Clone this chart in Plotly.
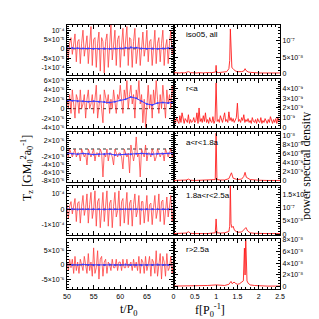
import plotly.graph_objects as go
from plotly.subplots import make_subplots

# ---------------- data ----------------
T_START, T_STEP = 50.0, 0.25
MEAN_STEP = 1.0

# time series (left column); units noted per series
all_T = [2, -5, 3, 6, -3, 2, 8, -7, 4, 5, -8, 3, 10, -4, 2, 7, -8, 0, 12, -9, 5, 6, -10, 3, 9, -12, 6, 4, -13, 4,
         8, -10, 1, 13, -6, 3, 10, -9, 5, 7, -10, 2, 11, -4, 3, 12, -9, 6, 5, -10, 4, 11, -8, 0, 6, -9, 3, 9, -4, 1,
         10, -7, 4, 5, -9, 2, 10, -8, 3, 6, -7, 3, 10, -9, 1, 5, -8, 3, 10, -3, 2]           # 1e-5
inner_T = [2, 0, 3, -1, 4, 1, -2, 3, 2, -1, 4, 0, 1, 3, -2, 2, 4, 0, 1, 3, -1, 2, 5, -2, 1, 3, 0, -3, 4, 2,
           1, 3, -1, 2, 0, 4, 1, -1, 3, 2, 5, 1, -1, 4, 2, 6, 0, 3, 5, 1, 3, -2, 4, 2, 6, 1, 3, -3, 2, -4,
           1, 5, 0, 3, -2, 4, 1, 6, 2, -1, 3, 0, 5, 2, -2, 4, 1, 3, 0, 5, 2]                  # 1e-6
mid_T = [-1, -2, 0, -1, -2, -1, 0, -2, -1, -1, -3, 0, -1, -2, -1, -4, 0, -1, -2, -1, 0, -3, -1, -1, -2, 0, -1, -7, -1, -2,
         0, -3, -1, -1, -2, -4, 0, -1, -2, -1, -1, -2, -5, 0, -1, -2, -1, -6, 1, -1, -3, -1, 3, -2, -1, -7, 0, -1, -2, 1,
         -3, -1, -1, -2, 0, -1, -3, -2, 0, -1, -2, -1, -1, -3, 0, -1, -2, -1, 0, -2, -1]     # 1e-6
outer_T = [3, -6, 2, 5, -3, 1, 7, -8, 4, 5, -9, 2, 9, -4, 1, 10, -9, 3, 11, -6, 0, 12, -11, 5, 7, -12, 1, 11, -8, 3,
           12, -11, 4, 6, -12, 2, 11, -5, -1, 12, -11, 5, 7, -9, 2, 11, -10, 4, 6, -11, 3, 10, -5, -1, 9, -10, 5, 5, -9, 0,
           9, -8, 3, 4, -10, 1, 9, -6, -1, 10, -8, 5, 6, -10, 0, 8, -5, 2, 9, -8, 1]          # 1e-5
far_T = [1, -2, 2, -1, 2, -3, 3, -2, 1, -3, 2, 0, -2, 3, -1, -3, 4, -2, 1, -4, 6, -3, -1, 5, -5, 2, 3, -4, 1, 2,
         -3, 1, 0, -2, 2, -1, -1, 2, -2, 1, 1, -2, 2, -1, -1, 2, -1, 0, 1, -2, 2, -1, 1, -2, 3, -3, 2, 1, -3, 3,
         -2, 0, 3, -4, 2, 1, -3, 5, -4, 0, 4, -5, 3, 1, -4, 4, -2, -1, 3, -3, 2]             # 1e-6

# running means (blue), t = 50..70 step 1
all_mean = [0.3, 0.4, 0.3, 0.2, 0.1, 0.0, 0.0, 0.1, 0.0, 0.1, 0.2, 0.5, 0.8, 0.6, 0.2, 0.0, 0.1, 0.0, 0.2, 0.3, 0.4]
inner_mean = [1.8, 1.7, 1.6, 1.6, 1.5, 1.6, 1.5, 1.4, 1.3, 1.5, 1.8, 2.0, 2.5, 2.2, 1.6, 1.0, 0.8, 1.2, 1.3, 1.2, 1.4]
mid_mean = [-1.0, -1.2, -1.3, -1.1, -1.2, -1.4, -1.3, -1.3, -1.2, -1.5, -1.4, -1.3, -1.3, -1.2, -1.1, -1.2, -1.3, -1.2, -1.2, -1.1, -1.0]
outer_mean = [0.1, 0.0, -0.1, 0.0, 0.1, 0.0, 0.0, -0.1, 0.0, 0.1, 0.0, 0.1, 0.0, 0.0, -0.1, 0.0, 0.1, 0.0, 0.0, 0.1, 0.0]
far_mean = [0.1, 0.0, 0.0, 0.1, 0.0, -0.1, 0.0, 0.0, 0.1, 0.0, 0.0, 0.1, 0.0, 0.0, -0.1, 0.0, 0.0, 0.1, 0.0, 0.0, 0.1]

# spectra (right column)
all_f = [0, 0.05, 0.1, 0.15, 0.2, 0.25, 0.3, 0.35, 0.4, 0.45, 0.5, 0.55, 0.6, 0.65, 0.7, 0.75, 0.8, 0.85, 0.9, 0.95,
         0.99, 1.0, 1.01, 1.05, 1.1, 1.15, 1.2, 1.25, 1.3, 1.32, 1.335, 1.35, 1.37, 1.4, 1.42, 1.45, 1.5, 1.55, 1.6,
         1.65, 1.68, 1.7, 1.72, 1.75, 1.8, 1.85, 1.9, 2.0, 2.1, 2.2, 2.3, 2.4, 2.5]
all_p = [0.3, 0.2, 0.3, 0.2, 0.3, 0.2, 0.4, 0.6, 0.3, 0.2, 0.3, 0.2, 0.3, 0.2, 0.2, 0.3, 0.2, 0.3, 0.3, 0.4,
         0.5, 2.5, 0.5, 0.3, 0.4, 0.3, 0.5, 0.6, 1.5, 4.0, 13.5, 5.0, 1.8, 1.5, 1.2, 0.8, 0.6, 0.5, 0.6,
         0.8, 1.5, 1.0, 0.8, 0.5, 0.4, 0.3, 0.3, 0.2, 0.2, 0.2, 0.2, 0.2, 0.2]                 # 1e-8
inner_df = 0.025
inner_p = [0.3, 0.8, 0.5, 1.0, 0.6, 0.4, 1.2, 0.5, 1.5, 0.7,
           0.4, 0.9, 0.6, 0.5, 1.3, 0.4, 0.8, 0.5, 0.6, 1.0,
           0.5, 0.7, 1.5, 0.4, 2.0, 0.6, 0.9, 0.5, 1.2, 0.6,
           1.5, 0.5, 0.8, 0.4, 1.0, 0.6, 0.5, 1.1, 0.4, 0.7,
           4.6, 0.6, 0.8, 0.5, 1.2, 0.7, 0.5, 1.0, 1.5, 0.6,
           0.8, 0.5, 1.6, 0.7, 1.0, 0.6, 0.9, 0.5, 0.7, 1.0,
           2.5, 0.6, 0.8, 0.5, 1.0, 0.7, 1.3, 0.5, 0.8, 0.6,
           0.9, 0.5, 0.7, 0.4, 1.0, 0.6, 0.5, 0.8, 0.4, 0.9,
           0.6, 0.5, 1.0, 0.4, 0.7, 0.5, 0.9, 0.6, 0.4, 0.8,
           0.5, 1.1, 0.6, 0.4, 0.8, 0.5, 0.9, 0.4, 1.0, 0.6,
           0.7]                                                                                  # 1e-9
mid_f = [0, 0.1, 0.2, 0.3, 0.35, 0.4, 0.5, 0.6, 0.7, 0.8, 0.9, 0.98, 1.0, 1.02, 1.1, 1.2, 1.3, 1.33, 1.36, 1.4,
         1.5, 1.6, 1.65, 1.68, 1.71, 1.8, 1.9, 2.0, 2.2, 2.5]
mid_p = [0.1, 0.1, 0.15, 0.2, 0.4, 0.15, 0.1, 0.15, 0.1, 0.1, 0.15, 0.3, 10.6, 0.3, 0.2, 0.2, 0.5, 1.2, 1.8, 0.6,
         0.3, 0.4, 1.0, 1.9, 0.8, 0.3, 0.2, 0.15, 0.1, 0.1]                                      # 1e-9
outer_f = [0, 0.1, 0.2, 0.3, 0.35, 0.4, 0.5, 0.6, 0.7, 0.8, 0.9, 0.98, 1.0, 1.02, 1.1, 1.2, 1.3, 1.32, 1.335, 1.35,
           1.37, 1.4, 1.43, 1.5, 1.6, 1.66, 1.7, 1.74, 1.8, 1.9, 2.0, 2.2, 2.5]
outer_p = [0.2, 0.2, 0.3, 0.4, 0.9, 0.3, 0.2, 0.3, 0.2, 0.2, 0.3, 0.5, 5.8, 0.5, 0.4, 0.5, 1.0, 3.0, 19.0, 4.0,
           2.5, 3.0, 1.5, 0.7, 0.8, 1.8, 2.5, 1.2, 0.5, 0.3, 0.2, 0.2, 0.2]                      # 1e-8
far_f = [0, 0.2, 0.4, 0.6, 0.8, 1.0, 1.2, 1.3, 1.35, 1.38, 1.42, 1.45, 1.5, 1.55, 1.6, 1.64, 1.665, 1.68, 1.695,
         1.71, 1.725, 1.75, 1.8, 1.9, 2.0, 2.2, 2.5]
far_p = [0.1, 0.1, 0.15, 0.1, 0.2, 0.3, 0.2, 0.4, 0.9, 0.5, 0.8, 0.6, 0.4, 0.5, 0.7, 1.0, 6.6, 2.0, 8.5,
         3.0, 1.0, 0.6, 0.3, 0.2, 0.15, 0.1, 0.1]                                                # 1e-8

labels = ["iso05, all", "r<a", "a<r<1.8a", "1.8a<r<2.5a", "r>2.5a"]

left_series = [(all_T, all_mean, 1e-5), (inner_T, inner_mean, 1e-6), (mid_T, mid_mean, 1e-6),
               (outer_T, outer_mean, 1e-5), (far_T, far_mean, 1e-6)]
right_series = [(all_f, all_p, 1e-8), ([inner_df * i for i in range(len(inner_p))], inner_p, 1e-9),
                (mid_f, mid_p, 1e-9), (outer_f, outer_p, 1e-8), (far_f, far_p, 1e-8)]

left_ranges = [[-1.39e-4, 1.28e-4], [-4.15e-6, 6.4e-6], [-8.2e-6, 4.2e-6], [-1.7e-4, 1.53e-4], [-8.5e-6, 9.0e-6]]
left_ticks = [
    ([1e-4, 5e-5, 0, -5e-5, -1e-4], ["10⁻⁴", "5×10⁻⁵", "0", "-5×10⁻⁵", "-1×10⁻⁴"]),
    ([6e-6, 4e-6, 2e-6, 0, -2e-6, -4e-6], ["6×10⁻⁶", "4×10⁻⁶", "2×10⁻⁶", "0", "-2×10⁻⁶", "-4×10⁻⁶"]),
    ([2e-6, 0, -2e-6, -4e-6, -6e-6, -8e-6], ["2×10⁻⁶", "0", "-2×10⁻⁶", "-4×10⁻⁶", "-6×10⁻⁶", "-8×10⁻⁶"]),
    ([1e-4, 0, -1e-4], ["10⁻⁴", "0", "-1×10⁻⁴"]),
    ([5e-6, 0, -5e-6], ["5×10⁻⁶", "0", "-5×10⁻⁶"]),
]
left_minor = [1e-5, 5e-7, 5e-7, 2e-5, 1e-6]
right_ranges = [[-0.3e-8, 1.47e-7], [-0.1e-9, 5.05e-9], [-0.2e-9, 10.8e-9], [-0.5e-8, 1.85e-7], [-0.4e-8, 8.1e-8]]
right_ticks = [
    ([1e-7, 5e-8, 0], ["10⁻⁷", "5×10⁻⁸", "0"]),
    ([4e-9, 3e-9, 2e-9, 1e-9, 0], ["4×10⁻⁹", "3×10⁻⁹", "2×10⁻⁹", "10⁻⁹", "0"]),
    ([1e-8, 8e-9, 6e-9, 4e-9, 2e-9, 0], ["10⁻⁸", "8×10⁻⁹", "6×10⁻⁹", "4×10⁻⁹", "2×10⁻⁹", "0"]),
    ([1.5e-7, 1e-7, 5e-8, 0], ["1.5×10⁻⁷", "10⁻⁷", "5×10⁻⁸", "0"]),
    ([8e-8, 6e-8, 4e-8, 2e-8, 0], ["8×10⁻⁸", "6×10⁻⁸", "4×10⁻⁸", "2×10⁻⁸", "0"]),
]
right_minor = [1e-8, 2e-10, 5e-10, 1e-8, 5e-9]

# ---------------- figure ----------------
fig = make_subplots(rows=5, cols=2, horizontal_spacing=0, vertical_spacing=0.015)

RED = "rgb(255,30,30)"
BLUE = "rgb(60,60,255)"
tickfont = dict(family="Liberation Sans", size=7, color="black")

for r in range(5):
    vals, mean, unit = left_series[r]
    t = [T_START + T_STEP * i for i in range(len(vals))]
    tm = [T_START + MEAN_STEP * i for i in range(len(mean))]
    fig.add_trace(go.Scatter(x=[50, 70], y=[0, 0], mode="lines",
                             line=dict(color="black", width=0.8, dash="dot"), showlegend=False), row=r + 1, col=1)
    fig.add_trace(go.Scatter(x=t, y=[v * unit for v in vals], mode="lines",
                             line=dict(color=RED, width=0.8), opacity=0.85, showlegend=False), row=r + 1, col=1)
    fig.add_trace(go.Scatter(x=tm, y=[v * unit for v in mean], mode="lines+markers",
                             line=dict(color=BLUE, width=1), marker=dict(size=2, color=BLUE),
                             showlegend=False), row=r + 1, col=1)
    f, p, punit = right_series[r]
    fig.add_trace(go.Scatter(x=f, y=[v * punit for v in p], mode="lines",
                             line=dict(color=RED, width=0.9), showlegend=False), row=r + 1, col=2)

    common = dict(showline=True, linecolor="black", linewidth=1.2, mirror="allticks", ticks="inside",
                  ticklen=4, tickwidth=1, tickcolor="black", showgrid=False, zeroline=False, tickfont=tickfont)
    fig.update_xaxes(range=[50, 70], tickvals=[50, 55, 60, 65], ticktext=["50", "55", "60", "65"],
                     showticklabels=(r == 4),
                     minor=dict(ticks="inside", ticklen=2, dtick=1, tickcolor="black", showgrid=False),
                     row=r + 1, col=1, **common)
    fig.update_xaxes(range=[0, 2.5], tickvals=[0, 0.5, 1, 1.5, 2, 2.5],
                     ticktext=["0", "0.5", "1", "1.5", "2", "2.5"], showticklabels=(r == 4),
                     minor=dict(ticks="inside", ticklen=2, dtick=0.1, tickcolor="black", showgrid=False),
                     row=r + 1, col=2, **common)
    fig.update_yaxes(range=left_ranges[r], tickvals=left_ticks[r][0], ticktext=left_ticks[r][1],
                     minor=dict(ticks="inside", ticklen=2, dtick=left_minor[r], tickcolor="black", showgrid=False),
                     row=r + 1, col=1, **common)
    fig.update_yaxes(range=right_ranges[r], tickvals=right_ticks[r][0], ticktext=right_ticks[r][1],
                     side="right",
                     minor=dict(ticks="inside", ticklen=2, dtick=right_minor[r], tickcolor="black", showgrid=False),
                     row=r + 1, col=2, **common)

    idx = 2 * r + 2
    fig.add_annotation(xref=f"x{idx} domain", yref=f"y{idx} domain", x=0.1, y=0.93,
                       xanchor="left", yanchor="top", text=labels[r], showarrow=False,
                       font=dict(family="Liberation Sans", size=8, color="black"))

titlefont = dict(family="Liberation Serif", size=12, color="black")
fig.add_annotation(xref="paper", yref="paper", x=-0.235, y=0.46, textangle=-90, showarrow=False,
                   text="T<sub>z</sub> [GM<sub>0</sub><sup>2</sup>a<sub>0</sub><sup>-1</sup>]", font=titlefont)
fig.add_annotation(xref="paper", yref="paper", x=1.163, y=0.466, textangle=-90, showarrow=False,
                   text="power spectral density", font=titlefont)
fig.add_annotation(xref="paper", yref="paper", x=0.24, y=-0.04, yanchor="top", showarrow=False,
                   text="t/P<sub>0</sub>", font=titlefont)
fig.add_annotation(xref="paper", yref="paper", x=0.75, y=-0.04, yanchor="top", showarrow=False,
                   text="f[P<sub>0</sub><sup>-1</sup>]", font=titlefont)

fig.update_layout(width=319, height=319, margin=dict(l=59, r=47, t=17, b=38),
                  paper_bgcolor="white", plot_bgcolor="white", showlegend=False)

fig.write_html("out.html")
